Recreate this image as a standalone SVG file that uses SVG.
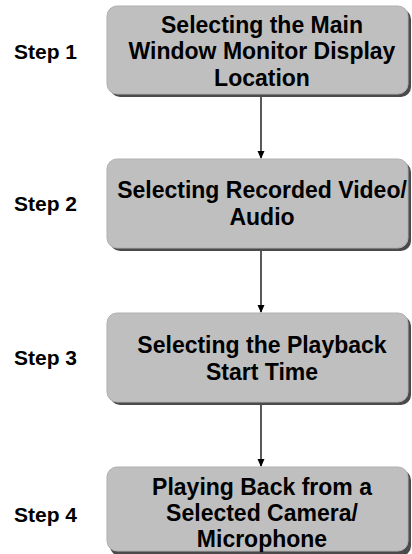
<svg xmlns="http://www.w3.org/2000/svg" width="412" height="554" viewBox="0 0 412 554">
<defs>
<style>
.shadow{fill:#4a4a4a}
.box{fill:#bfbfbf;stroke:#b0b0b0;stroke-width:1}
.t{font-family:"Liberation Sans",Arial,sans-serif;font-weight:bold;font-size:23px;fill:#000;text-anchor:middle}
.s{font-family:"Liberation Sans",Arial,sans-serif;font-weight:bold;font-size:21px;fill:#000}
.c{stroke:#000;stroke-width:1.3;fill:none}
</style>
<marker id="ah" markerWidth="8" markerHeight="8" refX="7" refY="4" orient="auto" markerUnits="userSpaceOnUse">
<path d="M0,0.5 L8,4 L0,7.5 Z" fill="#000"/>
</marker>
</defs>
<rect width="412" height="554" fill="#fff"/>
<g id="connectors">
<line class="c" x1="261" y1="97" x2="261" y2="158" marker-end="url(#ah)"/>
<line class="c" x1="261" y1="251" x2="261" y2="312" marker-end="url(#ah)"/>
<line class="c" x1="261" y1="405" x2="261" y2="466" marker-end="url(#ah)"/>
</g>
<g id="step1">
<text class="s" x="14" y="59">Step 1</text>
</g>
<g id="step2">
<text class="s" x="14" y="211">Step 2</text>
</g>
<g id="step3">
<text class="s" x="14" y="365">Step 3</text>
</g>
<g id="step4">
<text class="s" x="14" y="522">Step 4</text>
</g>
<g id="node1">
<rect class="shadow" x="110" y="9" width="301" height="88" rx="10"/>
<rect class="box" x="107" y="6" width="301" height="88" rx="10"/>
<text class="t" x="262" y="33">Selecting the Main</text>
<text class="t" x="262" y="59">Window Monitor Display</text>
<text class="t" x="262" y="86">Location</text>
</g>
<g id="node2">
<rect class="shadow" x="110" y="162" width="301" height="89" rx="10"/>
<rect class="box" x="107" y="159" width="301" height="89" rx="10"/>
<text class="t" x="262" y="198">Selecting Recorded Video/</text>
<text class="t" x="262" y="225">Audio</text>
</g>
<g id="node3">
<rect class="shadow" x="110" y="316" width="301" height="89" rx="10"/>
<rect class="box" x="107" y="313" width="301" height="89" rx="10"/>
<text class="t" x="262" y="353">Selecting the Playback</text>
<text class="t" x="262" y="380">Start Time</text>
</g>
<g id="node4">
<rect class="shadow" x="110" y="470" width="301" height="86" rx="10"/>
<rect class="box" x="107" y="467" width="301" height="84" rx="10"/>
<text class="t" x="262" y="495">Playing Back from a</text>
<text class="t" x="262" y="521">Selected Camera/</text>
<text class="t" x="262" y="547">Microphone</text>
</g>
</svg>
